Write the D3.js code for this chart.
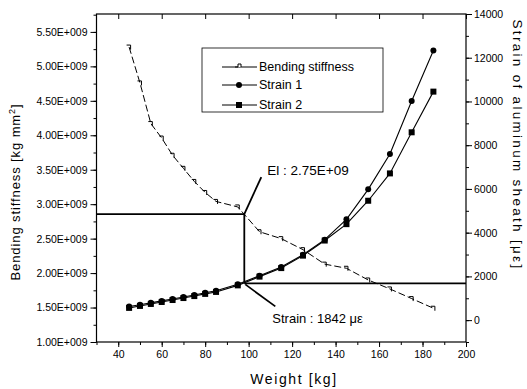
<!DOCTYPE html>
<html>
<head>
<meta charset="utf-8">
<script src="https://cdn.jsdelivr.net/npm/d3@7"></script>
<style>
  body { margin: 0; background: #fff; }
  svg { display: block; font-family: "Liberation Sans", Arial, sans-serif; }
</style>
</head>
<body>
<figure id="chart" style="margin:0"></figure>
<script>
// values
const weights = [45, 50, 55, 60, 65, 70, 75, 80, 85, 95, 105, 115, 125, 135, 145, 155, 165, 175, 185];
const stiffness = [5.28, 4.76, 4.17, 3.96, 3.71, 3.52, 3.33, 3.17, 3.04, 2.96, 2.60, 2.50, 2.34, 2.13, 2.07, 1.90, 1.77, 1.63, 1.49]; // x 1e9
const strain1 = [620, 700, 790, 880, 970, 1060, 1150, 1250, 1340, 1640, 2030, 2430, 2990, 3680, 4610, 5980, 7600, 10020, 12330];
const strain2 = [560, 650, 740, 830, 920, 1010, 1100, 1200, 1290, 1590, 1990, 2380, 2950, 3640, 4390, 5460, 6710, 8590, 10450];

const xTicks = [40, 60, 80, 100, 120, 140, 160, 180, 200];
const leftTicks = [1.0, 1.5, 2.0, 2.5, 3.0, 3.5, 4.0, 4.5, 5.0, 5.5];
const rightTicks = [0, 2000, 4000, 6000, 8000, 10000, 12000, 14000];

const seriesNames = ["Bending stiffness", "Strain 1", "Strain 2"];

// annotation: El marker and strain level
const elWeight = 98;
const elValue = 2.857;
const elLabel = "El : 2.75E+09";
const strainLevel = 1680;
const strainLabel = "Strain : 1842 \u03bc\u03b5";

const width = 527;
const height = 389;
const margin = { top: 14, right: 61, bottom: 47, left: 96.5 };

const svg = d3.select("figure#chart")
  .append("svg")
  .attr("width", width)
  .attr("height", height);

const x = d3.scaleLinear().domain([30, 200]).range([margin.left, width - margin.right]);
const yL = d3.scaleLinear().domain([1.0, 5.76]).range([height - margin.bottom, margin.top]);
const yR = d3.scaleLinear().domain([-1000, 14000]).range([height - margin.bottom, margin.top]);

const fmtE = d => d.toFixed(2) + "E+009";

// frame
svg.append("rect")
  .attr("x", margin.left)
  .attr("y", margin.top)
  .attr("width", width - margin.left - margin.right)
  .attr("height", height - margin.top - margin.bottom)
  .attr("fill", "none")
  .attr("stroke", "#000")
  .attr("stroke-width", 1.2);

// axes -- major ticks with labels, then minor ticks without
const bottom = height - margin.bottom;
svg.append("g")
  .attr("transform", "translate(0," + bottom + ")")
  .call(d3.axisBottom(x).tickValues(xTicks).tickSize(5).tickPadding(4).tickFormat(d3.format("d")));
svg.append("g")
  .attr("transform", "translate(0," + bottom + ")")
  .call(d3.axisBottom(x).tickValues(d3.range(30, 201, 10)).tickSize(3).tickFormat(""));
svg.append("g")
  .attr("transform", "translate(0," + margin.top + ")")
  .call(d3.axisBottom(x).tickValues(xTicks).tickSize(5).tickFormat(""));

svg.append("g")
  .attr("transform", "translate(" + margin.left + ",0)")
  .call(d3.axisLeft(yL).tickValues(leftTicks).tickSize(6).tickPadding(3).tickFormat(fmtE));
svg.append("g")
  .attr("transform", "translate(" + margin.left + ",0)")
  .call(d3.axisLeft(yL).tickValues(d3.range(1.0, 5.76, 0.25)).tickSize(3).tickFormat(""));

svg.append("g")
  .attr("transform", "translate(" + (width - margin.right) + ",0)")
  .call(d3.axisRight(yR).tickValues(rightTicks).tickSize(6).tickPadding(2).tickFormat(d3.format("d")));
svg.append("g")
  .attr("transform", "translate(" + (width - margin.right) + ",0)")
  .call(d3.axisRight(yR).tickValues(d3.range(-1000, 14001, 1000)).tickSize(3).tickFormat(""));

svg.selectAll(".domain").remove();
svg.selectAll(".tick line").attr("stroke", "#000").attr("stroke-width", 1);
svg.selectAll(".tick text").attr("fill", "#000").style("font-size", "10.5px");

// axis titles
svg.append("text")
  .attr("x", 294)
  .attr("y", 384)
  .attr("text-anchor", "middle")
  .style("font-size", "14px")
  .style("letter-spacing", "1.6px")
  .text("Weight [kg]");

const leftTitle = svg.append("text")
  .attr("transform", "translate(20,192) rotate(-90)")
  .attr("text-anchor", "middle")
  .style("font-size", "13px")
  .style("letter-spacing", "0.9px");
leftTitle.append("tspan").text("Bending stiffness [kg mm");
leftTitle.append("tspan").attr("dy", -5).style("font-size", "9px").text("2");
leftTitle.append("tspan").attr("dy", 5).text("]");

svg.append("text")
  .attr("transform", "translate(513,145) rotate(90)")
  .attr("text-anchor", "middle")
  .style("font-size", "13.5px")
  .style("letter-spacing", "2.3px")
  .text("Strain of aluminum sheath [\u03bc\u03b5]");

// series
const stiffData = weights.map((w, i) => ({ w: w, v: stiffness[i] }));
const s1Data = weights.map((w, i) => ({ w: w, v: strain1[i] }));
const s2Data = weights.map((w, i) => ({ w: w, v: strain2[i] }));

svg.append("path")
  .datum(stiffData)
  .attr("fill", "none")
  .attr("stroke", "#000")
  .attr("stroke-width", 1)
  .attr("stroke-dasharray", "7,3")
  .attr("d", d3.line().x(d => x(d.w)).y(d => yL(d.v)));

const hook = "M-2.5,-2 H1.5 V2.5";
svg.selectAll("path.hook")
  .data(stiffData)
  .enter()
  .append("path")
  .attr("class", "hook")
  .attr("transform", d => "translate(" + x(d.w) + "," + yL(d.v) + ")")
  .attr("d", hook)
  .attr("fill", "none")
  .attr("stroke", "#000")
  .attr("stroke-width", 1);

[s1Data, s2Data].forEach(data => {
  svg.append("path")
    .datum(data)
    .attr("fill", "none")
    .attr("stroke", "#000")
    .attr("stroke-width", 1.1)
    .attr("d", d3.line().x(d => x(d.w)).y(d => yR(d.v)));
});

svg.selectAll("circle.s1")
  .data(s1Data)
  .enter()
  .append("circle")
  .attr("class", "s1")
  .attr("cx", d => x(d.w))
  .attr("cy", d => yR(d.v))
  .attr("r", 3)
  .attr("fill", "#000");

svg.selectAll("rect.s2")
  .data(s2Data)
  .enter()
  .append("rect")
  .attr("class", "s2")
  .attr("x", d => x(d.w) - 3)
  .attr("y", d => yR(d.v) - 3)
  .attr("width", 6)
  .attr("height", 6)
  .attr("fill", "#000");

// annotation lines
const ex = x(elWeight);
const ey = yL(elValue);
const sy = yR(strainLevel);
const ann = svg.append("g")
  .attr("stroke", "#000")
  .attr("stroke-width", 1.8)
  .attr("fill", "none");
ann.append("line").attr("x1", margin.left).attr("x2", ex).attr("y1", ey).attr("y2", ey);
ann.append("line").attr("x1", ex).attr("x2", ex).attr("y1", ey).attr("y2", sy);
ann.append("line").attr("x1", ex).attr("x2", width - margin.right).attr("y1", sy).attr("y2", sy);
ann.append("line").attr("x1", ex).attr("y1", ey).attr("x2", ex + 17).attr("y2", ey - 37);
ann.append("line").attr("x1", ex + 1).attr("y1", sy + 1).attr("x2", ex + 31).attr("y2", sy + 23);

svg.append("text")
  .attr("x", ex + 23)
  .attr("y", ey - 39)
  .style("font-size", "13.5px")
  .text(elLabel);

svg.append("text")
  .attr("x", ex + 28)
  .attr("y", sy + 40)
  .style("font-size", "13px")
  .text(strainLabel);

// legend
const legend = svg.append("g").attr("transform", "translate(202,48)");
legend.append("rect")
  .attr("width", 181)
  .attr("height", 64)
  .attr("fill", "#fff")
  .attr("stroke", "#000")
  .attr("stroke-width", 0.8);

const rowY = [19, 37, 57];
seriesNames.forEach((name, i) => {
  const row = legend.append("g").attr("transform", "translate(0," + rowY[i] + ")");
  row.append("line")
    .attr("x1", 20).attr("x2", 55)
    .attr("stroke", "#000").attr("stroke-width", 1);
  if (i === 0) {
    row.append("path").attr("transform", "translate(37,0)").attr("d", "M-4,0 H-1 V-3 H2 V0")
      .attr("fill", "#fff").attr("stroke", "#000");
  } else if (i === 1) {
    row.append("circle").attr("cx", 37).attr("r", 3).attr("fill", "#000");
  } else {
    row.append("rect").attr("x", 34).attr("y", -3).attr("width", 6).attr("height", 6).attr("fill", "#000");
  }
  row.append("text")
    .attr("x", 57)
    .attr("dy", "0.35em")
    .style("font-size", "12.5px")
    .text(name);
});
</script>
</body>
</html>
